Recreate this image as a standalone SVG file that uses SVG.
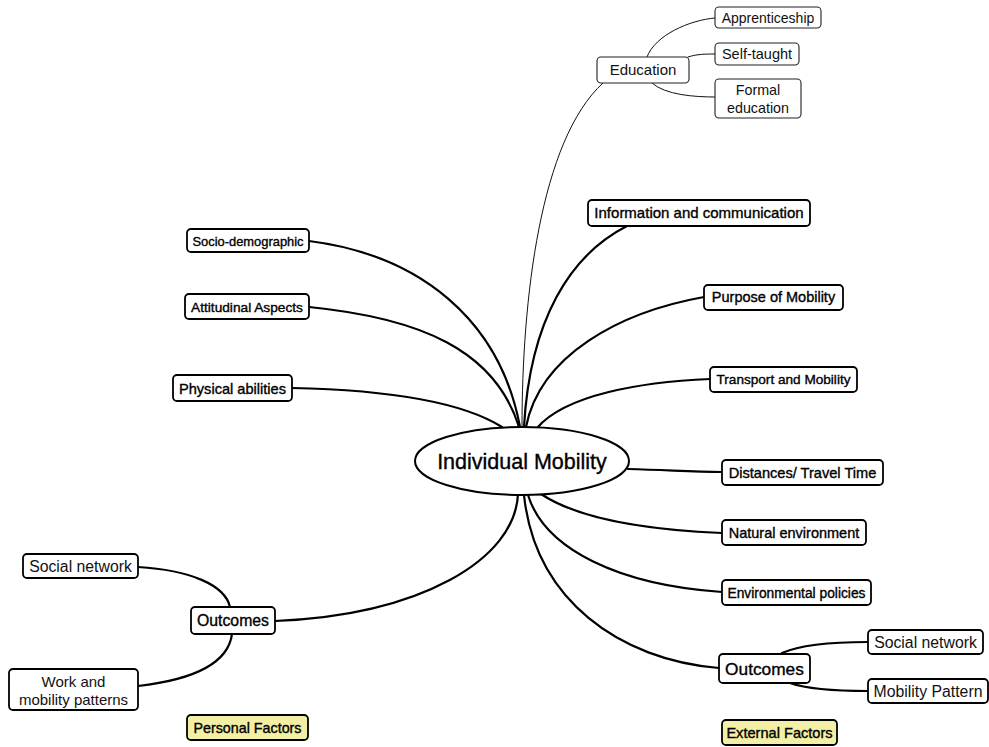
<svg xmlns="http://www.w3.org/2000/svg" width="989" height="747" viewBox="0 0 989 747">
  <style>
    text { font-family: "Liberation Sans", Arial, sans-serif; fill: #000; text-anchor: middle; stroke: #000; stroke-width: 0.35; }
    text.light { stroke: none; fill: #111; }
    .box { fill: #fff; stroke: #000; stroke-width: 1.8; }
    .thin { fill: #fff; stroke: #222; stroke-width: 1.1; }
    .key { fill: #f3f0a6; stroke: #000; stroke-width: 1.8; }
    .edge { fill: none; stroke: #000; stroke-width: 2.2; stroke-linecap: round; }
    .fine { fill: none; stroke: #111; stroke-width: 1; stroke-linecap: round; }
  </style>

  <!-- connectors -->
  <g id="connectors">
    <path class="fine" d="M522,427 C522,300 540,140 603,83"/>
    <path class="fine" d="M647,57 C655,35 690,20 715,18"/>
    <path class="fine" d="M688,57 C697,54 706,54 715,54"/>
    <path class="fine" d="M652,83 C665,95 695,97 715,97"/>
    <path class="edge" d="M309,241 C420,255 500,320 520,427"/>
    <path class="edge" d="M309,307 C420,318 495,350 519,427"/>
    <path class="edge" d="M292,388 C390,390 462,402 502,427"/>
    <path class="edge" d="M627,226 C570,255 530,320 524,427"/>
    <path class="edge" d="M704,297 C620,312 540,355 526,427"/>
    <path class="edge" d="M710,379 C640,382 565,395 537,428"/>
    <path class="edge" d="M628,469 C670,470 690,472 722,472"/>
    <path class="edge" d="M541,494 C580,520 650,530 722,533"/>
    <path class="edge" d="M528,495 C545,550 620,585 722,592"/>
    <path class="edge" d="M524,495 C535,600 620,660 719,668"/>
    <path class="edge" d="M518,494 C515,560 420,615 275,621"/>
    <path class="edge" d="M138,567 C190,570 225,585 230,607"/>
    <path class="edge" d="M232,634 C228,665 190,680 138,686"/>
    <path class="edge" d="M782,653 C800,645 830,642 868,642"/>
    <path class="edge" d="M790,683 C810,690 840,691 868,691"/>
  </g>

  <!-- central topic -->
  <g id="individual-mobility">
    <ellipse cx="522" cy="461" rx="107" ry="34" fill="#fff" stroke="#000" stroke-width="2"/>
    <text x="522" y="469" font-size="21.5">Individual Mobility</text>
  </g>

  <!-- education branch -->
  <g id="education">
    <rect class="thin" x="597" y="57" width="92" height="26" rx="4"/>
    <text class="light" x="643" y="75" font-size="15">Education</text>
  </g>
  <g id="apprenticeship">
    <rect class="thin" x="715" y="7" width="106" height="21" rx="4"/>
    <text class="light" x="768" y="23" font-size="14">Apprenticeship</text>
  </g>
  <g id="self-taught">
    <rect class="thin" x="715" y="43" width="84" height="22" rx="4"/>
    <text class="light" x="757" y="59" font-size="14.5">Self-taught</text>
  </g>
  <g id="formal-education">
    <rect class="thin" x="715" y="79" width="86" height="39" rx="4"/>
    <text class="light" x="758" y="95" font-size="14.3">Formal</text>
    <text class="light" x="758" y="113" font-size="14.3">education</text>
  </g>

  <!-- external factors -->
  <g id="information">
    <rect class="box" x="588" y="200" width="222" height="26" rx="4"/>
    <text x="699" y="218" font-size="15">Information and communication</text>
  </g>
  <g id="purpose">
    <rect class="box" x="704" y="285" width="139" height="25" rx="4"/>
    <text x="773.5" y="302" font-size="14.5">Purpose of Mobility</text>
  </g>
  <g id="transport">
    <rect class="box" x="710" y="367" width="147" height="25" rx="4"/>
    <text x="783.5" y="384" font-size="13.6">Transport and Mobility</text>
  </g>
  <g id="distances">
    <rect class="box" x="722" y="460" width="161" height="25" rx="4"/>
    <text x="802.5" y="477.5" font-size="14.6">Distances/ Travel Time</text>
  </g>
  <g id="natural-environment">
    <rect class="box" x="722" y="520" width="144" height="25" rx="4"/>
    <text x="794" y="537.5" font-size="14.5">Natural environment</text>
  </g>
  <g id="environmental-policies">
    <rect class="box" x="722" y="580" width="149" height="25" rx="4"/>
    <text x="796.5" y="597.5" font-size="13.8">Environmental policies</text>
  </g>
  <g id="outcomes-external">
    <rect class="box" x="719" y="654" width="91" height="29" rx="4"/>
    <text x="764.5" y="674.5" font-size="17.3">Outcomes</text>
  </g>
  <g id="social-network-external">
    <rect class="box" x="868" y="630" width="115" height="24" rx="4"/>
    <text class="light" x="925.5" y="647.5" font-size="15.8">Social network</text>
  </g>
  <g id="mobility-pattern">
    <rect class="box" x="868" y="679" width="120" height="24" rx="4"/>
    <text class="light" x="928" y="696.5" font-size="15.8">Mobility Pattern</text>
  </g>
  <g id="external-factors">
    <rect class="key" x="722" y="720" width="115" height="25" rx="4"/>
    <text x="779.5" y="737.5" font-size="14.6">External Factors</text>
  </g>

  <!-- personal factors -->
  <g id="socio-demographic">
    <rect class="box" x="187" y="229" width="122" height="23" rx="4"/>
    <text x="248" y="245.5" font-size="12.9">Socio-demographic</text>
  </g>
  <g id="attitudinal">
    <rect class="box" x="185" y="294" width="124" height="25" rx="4"/>
    <text x="247" y="311.5" font-size="13.7">Attitudinal Aspects</text>
  </g>
  <g id="physical">
    <rect class="box" x="173" y="375" width="119" height="26" rx="4"/>
    <text x="232.5" y="393.5" font-size="14.6">Physical abilities</text>
  </g>
  <g id="outcomes-personal">
    <rect class="box" x="191" y="607" width="84" height="27" rx="4"/>
    <text x="233" y="626" font-size="15.8">Outcomes</text>
  </g>
  <g id="social-network-personal">
    <rect class="box" x="23" y="554" width="115" height="24" rx="4"/>
    <text class="light" x="80.5" y="571.5" font-size="15.8">Social network</text>
  </g>
  <g id="work-mobility">
    <rect class="box" x="9" y="669" width="129" height="41" rx="4"/>
    <text class="light" x="73.5" y="686.5" font-size="15">Work and</text>
    <text class="light" x="73.5" y="705" font-size="15">mobility patterns</text>
  </g>
  <g id="personal-factors">
    <rect class="key" x="187" y="715" width="121" height="25" rx="4"/>
    <text x="247.5" y="732.5" font-size="14.3">Personal Factors</text>
  </g>
</svg>
